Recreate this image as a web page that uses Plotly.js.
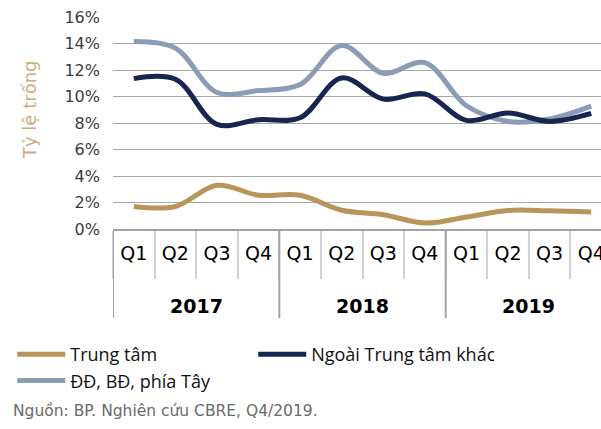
<!DOCTYPE html>
<html>
<head>
<meta charset="utf-8">
<script src="https://cdn.plot.ly/plotly-3.0.1.min.js"></script>
<style>
html, body { margin: 0; padding: 0; overflow: hidden; background: #fff; width: 601px; height: 429px; }
#chart { width: 625px; height: 429px; }
</style>
</head>
<body>
<div id="chart"></div>
<script>
// Data
const years = ['2017','2017','2017','2017','2018','2018','2018','2018','2019','2019','2019','2019'];
const quarters = ['Q1','Q2','Q3','Q4','Q1','Q2','Q3','Q4','Q1','Q2','Q3','Q4'];
const trungTam = [1.7, 1.7, 3.3, 2.55, 2.55, 1.42, 1.08, 0.45, 0.9, 1.4, 1.37, 1.28];
const ngoaiTrungTamKhac = [11.35, 11.3, 7.9, 8.25, 8.4, 11.4, 9.8, 10.2, 8.2, 8.75, 8.12, 8.72];
const phiaTay = [14.15, 13.65, 10.3, 10.45, 10.9, 13.85, 11.75, 12.55, 9.3, 8.12, 8.3, 9.27];
const seriesNames = ['Trung tâm', 'Ngoài Trung tâm khác', 'ĐĐ, BĐ, phía Tây'];
const yTitle = 'Tỷ lệ trống';
const source = 'Nguồn: BP. Nghiên cứu CBRE, Q4/2019.';

// category keys (one per quarter), labelled with the quarter names
const cats = years.map((y, i) => quarters[i] + ' ' + y);

const colors = { gold: '#b8965a', navy: '#16264f', light: '#8a9cb6' };

const traces = [
  { x: cats, y: trungTam, name: seriesNames[0], legendrank: 1, type: 'scatter', mode: 'lines',
    line: { color: colors.gold, width: 5, shape: 'spline', smoothing: 1 } },
  { x: cats, y: phiaTay, name: seriesNames[2], legendrank: 3, type: 'scatter', mode: 'lines',
    line: { color: colors.light, width: 5, shape: 'spline', smoothing: 1 } },
  { x: cats, y: ngoaiTrungTamKhac, name: seriesNames[1], legendrank: 2, type: 'scatter', mode: 'lines',
    line: { color: colors.navy, width: 5, shape: 'spline', smoothing: 1 } }
];

const W = 625, H = 429;
const L = 107, R = 13, T = 17, B = 200;
const pw = W - L - R, ph = H - T - B;
const px = v => (v - L) / pw;
const py = v => (H - B - v) / ph;

// year groups: first index and count
const groups = [];
years.forEach((y, i) => {
  const g = groups[groups.length - 1];
  if (g && g.year === y) g.n++; else groups.push({ year: y, start: i, n: 1 });
});

const annotations = groups.map(g => ({
  text: '<b>' + g.year + '</b>', xref: 'x', yref: 'paper',
  x: g.start + (g.n - 1) / 2, y: py(306), xanchor: 'center', yanchor: 'middle', showarrow: false,
  font: { family: 'DejaVu Sans', size: 19, color: '#000' }
}));
annotations.push(
  { text: yTitle, xref: 'paper', yref: 'paper', x: px(23), y: py(110),
    xanchor: 'center', yanchor: 'middle', textangle: -90, showarrow: false,
    font: { family: 'DejaVu Sans', size: 18, color: '#c9ae80' } },
  { text: source, xref: 'paper', yref: 'paper', x: px(4), y: py(411),
    xanchor: 'left', yanchor: 'middle', showarrow: false,
    font: { family: 'DejaVu Sans', size: 15.5, color: '#6a6a6a' } }
);

const bounds = groups.map(g => g.start - 0.5);
bounds.push(years.length - 0.5);
const shapes = bounds.map(b => ({
  type: 'line', xref: 'x', yref: 'paper', x0: b, x1: b, y0: 0, y1: py(318),
  line: { color: '#a3a3a3', width: 2 }, layer: 'above'
}));

const layout = {
  width: W, height: H,
  margin: { l: L, r: R, t: T, b: B, pad: 0 },
  paper_bgcolor: '#fff', plot_bgcolor: '#fff',
  showlegend: true,
  hovermode: false,
  xaxis: {
    type: 'category',
    categoryorder: 'array', categoryarray: cats,
    range: [-0.5, cats.length - 0.5],
    tickmode: 'array', tickvals: cats, ticktext: quarters,
    showline: true, linecolor: '#a3a3a3', linewidth: 2,
    ticks: 'outside', tickson: 'boundaries', ticklen: 48, tickwidth: 2, tickcolor: '#d2d2d2',
    ticklabelstandoff: 6,
    showgrid: false, zeroline: false,
    tickfont: { family: 'DejaVu Sans', size: 19, color: '#000' }
  },
  yaxis: {
    range: [0, 16], dtick: 2, tick0: 0,
    ticksuffix: '%',
    showgrid: true, gridcolor: '#a8a8a8', gridwidth: 1,
    zeroline: false, showline: false,
    ticks: '', ticklabelstandoff: 12,
    tickfont: { family: 'DejaVu Sans', size: 16, color: '#3c3c3c' }
  },
  legend: {
    orientation: 'h',
    x: px(5), y: py(336), xanchor: 'left', yanchor: 'top',
    entrywidth: 178, entrywidthmode: 'pixels',
    itemwidth: 48,
    traceorder: 'normal',
    font: { family: 'Open Sans', size: 18, color: '#111' },
    bgcolor: 'rgba(0,0,0,0)'
  },
  annotations: annotations,
  shapes: shapes
};

Plotly.newPlot('chart', traces, layout, { displayModeBar: false, staticPlot: true });
</script>
</body>
</html>
